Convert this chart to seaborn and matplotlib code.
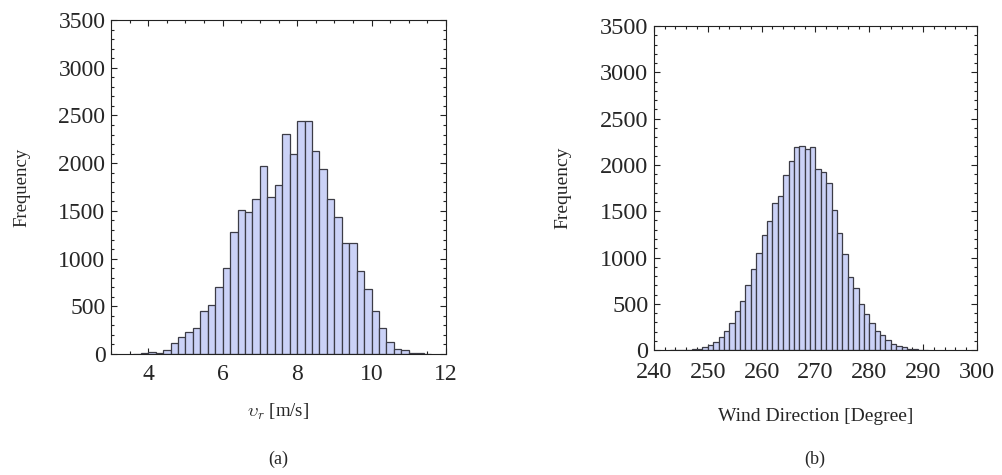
import numpy as np
import pandas as pd
import matplotlib
matplotlib.use("Agg")
import matplotlib.pyplot as plt
import seaborn as sns
from matplotlib.ticker import MultipleLocator

# -------------------------------
# DATA (bin counts)
# -------------------------------
speed_bin_start = 3.6
speed_bin_width = 0.2
speed_counts = [3, 8, 25, 10, 42, 112, 182, 226, 274, 454,
                517, 699, 901, 1275, 1505, 1492, 1622, 1967, 1645, 1768,
                2305, 2096, 2442, 2445, 2131, 1935, 1621, 1436, 1160, 1167,
                866, 685, 451, 269, 122, 49, 38, 14, 10, 3]

dir_bin_start = 243
dir_bin_width = 1
dir_counts = [1, 2, 3, 5, 8, 15, 29, 54, 90, 145,
              205, 290, 420, 530, 700, 875, 1050, 1240, 1390, 1590,
              1670, 1890, 2040, 2190, 2210, 2170, 2190, 1960, 1925, 1810,
              1510, 1270, 1035, 790, 675, 495, 385, 295, 210, 162,
              105, 65, 47, 28, 15, 8, 4, 2]

y_ticks = [0, 500, 1000, 1500, 2000, 2500, 3000, 3500]
speed_ticks = [4, 6, 8, 10, 12]
dir_ticks = [240, 250, 260, 270, 280, 290, 300]

# -------------------------------
# STYLE
# -------------------------------
sns.set_style("ticks")
plt.rcParams["font.family"] = ["Liberation Serif", "DejaVu Serif"]
plt.rcParams["mathtext.fontset"] = "cm"

bar_color = "#cbd2f7"
edge_color = "#3c3c46"


def draw_hist(ax, start, width, counts, xlim, xticks, minor_x, fs, lfs, xpad):
    edges = [start + width * i for i in range(len(counts) + 1)]
    df = pd.DataFrame({"x": [e + width / 2 for e in edges[:-1]],
                       "n": np.asarray(counts, dtype=float)})
    # bins must be a list here: seaborn compares it with "auto"
    sns.histplot(data=df, x="x", weights="n", bins=edges, ax=ax,
                 color=bar_color, edgecolor=edge_color, linewidth=0.9,
                 alpha=1.0)
    ax.set_xlim(*xlim)
    ax.set_ylim(0, 3500)
    ax.set_xticks(xticks)
    ax.set_yticks(y_ticks)
    ax.xaxis.set_minor_locator(MultipleLocator(minor_x))
    ax.yaxis.set_minor_locator(MultipleLocator(100))
    ax.tick_params(which="both", direction="in", top=True, right=True,
                   width=0.8, color="#222222", labelsize=fs)
    ax.tick_params(which="major", length=4.5)
    ax.tick_params(which="minor", length=2.5)
    ax.tick_params(axis="x", pad=xpad)
    ax.tick_params(axis="y", pad=4)
    for s in ax.spines.values():
        s.set_visible(True)
        s.set_linewidth(0.8)
        s.set_color("#222222")
    ax.set_ylabel("Frequency", fontsize=lfs)


fig = plt.figure(figsize=(10.03, 4.75), dpi=100)
ax1 = fig.add_axes([0.1107, 0.2547, 0.334, 0.703])
ax2 = fig.add_axes([0.652, 0.263, 0.322, 0.682])

draw_hist(ax1, speed_bin_start, speed_bin_width, speed_counts,
          (3, 12), speed_ticks, 0.5, 17, 13.5, 7)
draw_hist(ax2, dir_bin_start, dir_bin_width, dir_counts,
          (240, 300), dir_ticks, 2, 17.5, 14, 8.5)

ax1.set_xlabel(r"$\upsilon_r$ [m/s]", fontsize=13.5)
ax2.set_xlabel("Wind Direction [Degree]", fontsize=14)

ax1.xaxis.set_label_coords(0.5, -0.144)
ax2.xaxis.set_label_coords(0.5, -0.179)
ax1.yaxis.set_label_coords(-0.242, 0.5)
ax2.yaxis.set_label_coords(-0.257, 0.5)

fig.text(0.277, 0.032, "(a)", ha="center", va="center", fontsize=13)
fig.text(0.8126, 0.032, "(b)", ha="center", va="center", fontsize=13)

fig.savefig("out.png", dpi=100)
